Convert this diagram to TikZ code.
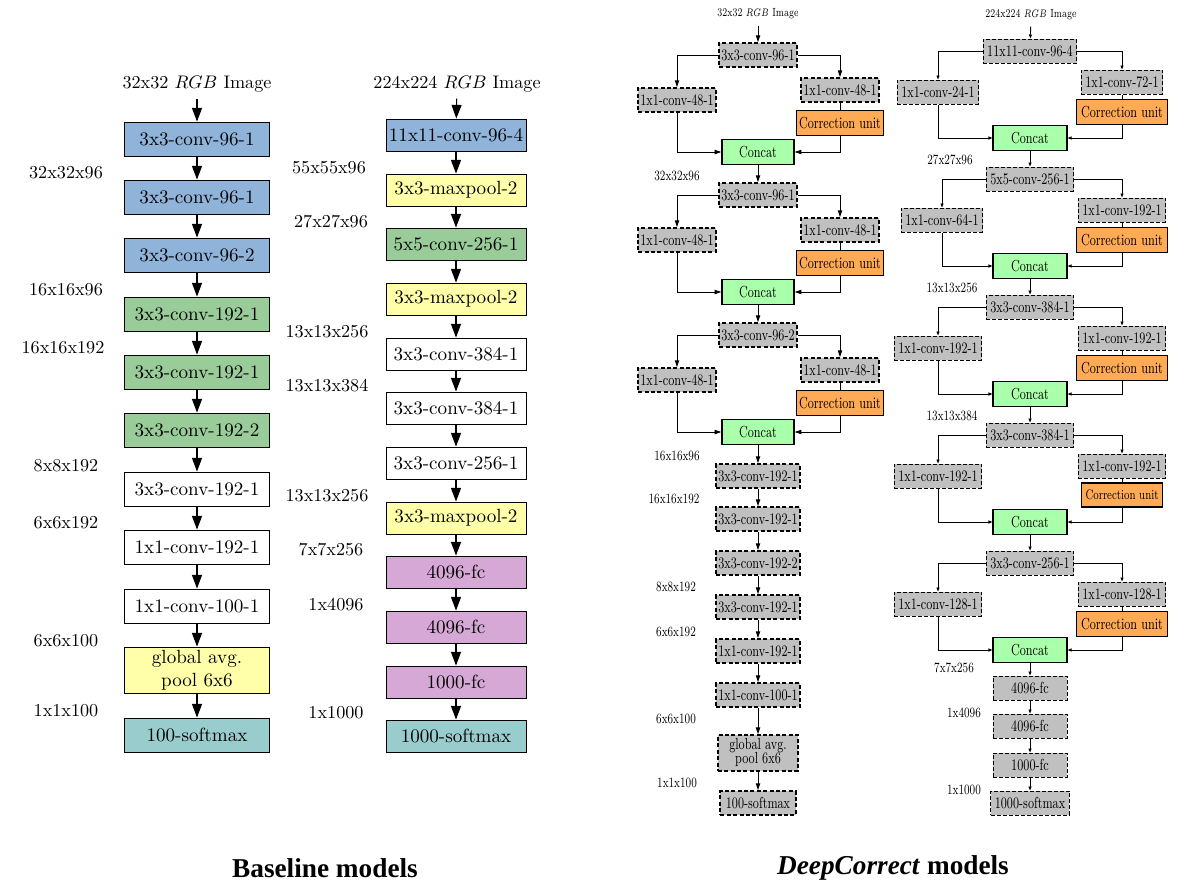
\documentclass[tikz,border=0pt]{standalone}
\usepackage{fontspec}
\usepackage{graphicx}
\usepackage{tikz}
\usetikzlibrary{arrows.meta}
\newfontfamily\capfont{Liberation Serif}

\definecolor{convblue}{RGB}{143,179,217}
\definecolor{convgreen}{RGB}{153,204,153}
\definecolor{poolyellow}{RGB}{255,255,170}
\definecolor{fcpurple}{RGB}{214,168,214}
\definecolor{softteal}{RGB}{153,204,204}
\definecolor{layergray}{RGB}{192,192,192}
\definecolor{concatgreen}{RGB}{170,255,170}
\definecolor{corrorange}{RGB}{255,170,85}
\newcommand{\sq}[1]{\scalebox{0.74}[1]{#1}}

\tikzset{
  blockL/.style={draw, line width=0.5pt, font=\fontsize{10.5}{12.5}\selectfont, minimum width=79.75pt, minimum height=18.7pt, inner sep=1pt},
  blockR/.style={blockL, minimum width=77pt, minimum height=17.6pt},
  dimtext/.style={font=\fontsize{10}{12}\selectfont},
  flow/.style={-{Triangle[length=7.5pt,width=5.5pt]}, line width=0.6pt},
  dclayer/.style={draw, fill=layergray, line width=1.1pt, dash pattern=on 2.2pt off 1.3pt, font=\fontsize{8.8}{10}\selectfont, minimum height=13pt, inner xsep=1.2pt, inner ysep=0pt},
  dclayerB/.style={draw, fill=layergray, line width=0.55pt, dash pattern=on 2.2pt off 1.1pt, font=\fontsize{8.8}{10}\selectfont, minimum height=13.2pt, inner xsep=2.2pt, inner ysep=0pt},
  corrunit/.style={draw, fill=corrorange, line width=0.6pt, font=\fontsize{8.8}{10}\selectfont, minimum height=14pt, inner xsep=1.4pt, inner ysep=0pt},
  concat/.style={draw, fill=concatgreen, line width=0.6pt, font=\fontsize{8.8}{10}\selectfont, minimum width=39.6pt, minimum height=13.75pt, inner sep=0pt},
  dcdim/.style={font=\fontsize{7.8}{9}\selectfont},
  dctitle/.style={font=\fontsize{6.5}{7.5}\selectfont},
  flowA/.style={-{Triangle[length=3.8pt,width=2.4pt]}, line width=0.55pt},
  flowB/.style={-{Triangle[length=2.2pt,width=1.7pt]}, line width=0.5pt},
}

\begin{document}
\begin{tikzpicture}[x=0.55pt, y=-0.55pt]
    \useasboundingbox (0,0) rectangle (1189,894);

    % baseline, 32x32 input
    \node[dimtext] at (197, 84) (t1) {32x32 $RGB$ Image};
    \node[blockL,fill=convblue] at (197,139) (b1) {3x3-conv-96-1};
    \node[blockL,fill=convblue] at (197,197) (b2) {3x3-conv-96-1};
    \node[blockL,fill=convblue] at (197,255) (b3) {3x3-conv-96-2};
    \node[blockL,fill=convgreen] at (197,314) (b4) {3x3-conv-192-1};
    \node[blockL,fill=convgreen] at (197,372) (b5) {3x3-conv-192-1};
    \node[blockL,fill=convgreen] at (197,430) (b6) {3x3-conv-192-2};
    \node[blockL,fill=white] at (197,489) (b7) {3x3-conv-192-1};
    \node[blockL,fill=white] at (197,547) (b8) {1x1-conv-192-1};
    \node[blockL,fill=white] at (197,606) (b9) {1x1-conv-100-1};
    \node[blockL,fill=poolyellow,align=center,minimum height=25.3pt] at (197,670) (b10) {global avg.\\pool 6x6};
    \node[blockL,fill=softteal] at (197,735) (b11) {100-softmax};

    \draw (t1) edge[flow] (b1);
    \draw (b1) edge[flow] (b2);
    \draw (b2) edge[flow] (b3);
    \draw (b3) edge[flow] (b4);
    \draw (b4) edge[flow] (b5);
    \draw (b5) edge[flow] (b6);
    \draw (b6) edge[flow] (b7);
    \draw (b7) edge[flow] (b8);
    \draw (b8) edge[flow] (b9);
    \draw (b9) edge[flow] (b10);
    \draw (b10) edge[flow] (b11);

    \node[dimtext] at (66,173) (sb1) {32x32x96};
    \node[dimtext] at (66,290) (sb2) {16x16x96};
    \node[dimtext] at (63,348) (sb3) {16x16x192};
    \node[dimtext] at (66,466) (sb4) {8x8x192};
    \node[dimtext] at (66,523) (sb5) {6x6x192};
    \node[dimtext] at (66,641) (sb6) {6x6x100};
    \node[dimtext] at (66,711) (sb7) {1x1x100};

    % baseline, 224x224 input
    \node[dimtext] at (457, 84) (t2) {224x224 $RGB$ Image};
    \node[blockR,fill=convblue] at (456,135) (a1) {11x11-conv-96-4};
    \node[blockR,fill=poolyellow] at (456,190) (a2) {3x3-maxpool-2};
    \node[blockR,fill=convgreen] at (456,244) (a3) {5x5-conv-256-1};
    \node[blockR,fill=poolyellow] at (456,299) (a4) {3x3-maxpool-2};
    \node[blockR,fill=white] at (456,354) (a5) {3x3-conv-384-1};
    \node[blockR,fill=white] at (456,408) (a6) {3x3-conv-384-1};
    \node[blockR,fill=white] at (456,463) (a7) {3x3-conv-256-1};
    \node[blockR,fill=poolyellow] at (456,518) (a8) {3x3-maxpool-2};
    \node[blockR,fill=fcpurple] at (456,572) (a9) {4096-fc};
    \node[blockR,fill=fcpurple] at (456,627) (a10) {4096-fc};
    \node[blockR,fill=fcpurple] at (456,682) (a11) {1000-fc};
    \node[blockR,fill=softteal] at (456,736) (a12) {1000-softmax};

    \draw (t2) edge[flow] (a1);
    \draw (a1) edge[flow] (a2);
    \draw (a2) edge[flow] (a3);
    \draw (a3) edge[flow] (a4);
    \draw (a4) edge[flow] (a5);
    \draw (a5) edge[flow] (a6);
    \draw (a6) edge[flow] (a7);
    \draw (a7) edge[flow] (a8);
    \draw (a8) edge[flow] (a9);
    \draw (a9) edge[flow] (a10);
    \draw (a10) edge[flow] (a11);
    \draw (a11) edge[flow] (a12);

    \node[dimtext] at (329,168) (sa1) {55x55x96};
    \node[dimtext] at (331,222) (sa2) {27x27x96};
    \node[dimtext] at (327,332) (sa3) {13x13x256};
    \node[dimtext] at (327,386) (sa4) {13x13x384};
    \node[dimtext] at (327,496) (sa5) {13x13x256};
    \node[dimtext] at (331,550) (sa6) {7x7x256};
    \node[dimtext] at (336,605) (sa7) {1x4096};
    \node[dimtext] at (336,713) (sa8) {1x1000};

    % DeepCorrect, 32x32 input
    \node[dctitle] at (758,14) (u0) {\sq{32x32 $RGB$ Image}};

    \node[dclayer] at (758,55) (c0) {\sq{3x3-conv-96-1}};
    \node[dclayer] at (677,100) (l0) {\sq{1x1-conv-48-1}};
    \node[dclayer] at (840,90) (r0) {\sq{1x1-conv-48-1}};
    \node[corrunit] at (840,123) (k0) {\sq{Correction unit}};
    \node[concat] at (758,152) (m0) {\sq{Concat}};

    \node[dclayer] at (758,195) (c1) {\sq{3x3-conv-96-1}};
    \node[dclayer] at (677,240) (l1) {\sq{1x1-conv-48-1}};
    \node[dclayer] at (840,230) (r1) {\sq{1x1-conv-48-1}};
    \node[corrunit] at (840,263) (k1) {\sq{Correction unit}};
    \node[concat] at (758,292) (m1) {\sq{Concat}};

    \node[dclayer] at (758,335) (c2) {\sq{3x3-conv-96-2}};
    \node[dclayer] at (677,380) (l2) {\sq{1x1-conv-48-1}};
    \node[dclayer] at (840,370) (r2) {\sq{1x1-conv-48-1}};
    \node[corrunit] at (840,403) (k2) {\sq{Correction unit}};
    \node[concat] at (758,432) (m2) {\sq{Concat}};

    \node[dclayer] at (758,476) (p1) {\sq{3x3-conv-192-1}};
    \node[dclayer] at (758,519) (p2) {\sq{3x3-conv-192-1}};
    \node[dclayer] at (758,563) (p3) {\sq{3x3-conv-192-2}};
    \node[dclayer] at (758,607) (p4) {\sq{3x3-conv-192-1}};
    \node[dclayer] at (758,651) (p5) {\sq{1x1-conv-192-1}};
    \node[dclayer] at (758,695) (p6) {\sq{1x1-conv-100-1}};
    \node[dclayer,minimum width=44pt,minimum height=19.5pt] at (758,753) (p7) {\sq{\begin{tabular}{@{}c@{}}global avg.\\[-2pt]pool 6x6\end{tabular}}};
    \node[dclayer,inner xsep=3pt] at (758,803) (p8) {\sq{100-softmax}};

    \draw (u0) edge[flowA] (c0);
    \draw[flowA] (c0.west) -| (l0.north);
    \draw[flowA] (c0.east) -| (r0.north);
    \draw[line width=0.55pt] (r0) -- (k0);
    \draw[flowA] (l0.south) |- (m0.west);
    \draw[flowA] (k0.south) |- (m0.east);
    \draw (m0) edge[flowA] (c1);
    \draw[flowA] (c1.west) -| (l1.north);
    \draw[flowA] (c1.east) -| (r1.north);
    \draw[line width=0.55pt] (r1) -- (k1);
    \draw[flowA] (l1.south) |- (m1.west);
    \draw[flowA] (k1.south) |- (m1.east);
    \draw (m1) edge[flowA] (c2);
    \draw[flowA] (c2.west) -| (l2.north);
    \draw[flowA] (c2.east) -| (r2.north);
    \draw[line width=0.55pt] (r2) -- (k2);
    \draw[flowA] (l2.south) |- (m2.west);
    \draw[flowA] (k2.south) |- (m2.east);
    \draw (m2) edge[flowA] (p1);
    \draw (p1) edge[flowA] (p2);
    \draw (p2) edge[flowA] (p3);
    \draw (p3) edge[flowA] (p4);
    \draw (p4) edge[flowA] (p5);
    \draw (p5) edge[flowA] (p6);
    \draw (p6) edge[flowA] (p7);
    \draw (p7) edge[flowA] (p8);

    \node[dcdim] at (677,176) (sc1) {\sq{32x32x96}};
    \node[dcdim] at (677,456) (sc2) {\sq{16x16x96}};
    \node[dcdim] at (674,499) (sc3) {\sq{16x16x192}};
    \node[dcdim] at (676,587) (sc4) {\sq{8x8x192}};
    \node[dcdim] at (676,632) (sc5) {\sq{6x6x192}};
    \node[dcdim] at (676,719) (sc6) {\sq{6x6x100}};
    \node[dcdim] at (677,783) (sc7) {\sq{1x1x100}};

    % DeepCorrect, 224x224 input
    \node[dctitle] at (1031,15) (v0) {\sq{224x224 $RGB$ Image}};

    \node[dclayerB] at (1030,51) (e0) {\sq{11x11-conv-96-4}};
    \node[dclayerB] at (938,92) (f0) {\sq{1x1-conv-24-1}};
    \node[dclayerB] at (1122,82) (g0) {\sq{1x1-conv-72-1}};
    \node[corrunit,inner xsep=2.4pt] at (1122,112) (h0) {\sq{Correction unit}};
    \node[concat,minimum width=40.7pt] at (1030,138) (n0) {\sq{Concat}};

    \node[dclayerB] at (1030,179) (e1) {\sq{5x5-conv-256-1}};
    \node[dclayerB] at (942,220) (f1) {\sq{1x1-conv-64-1}};
    \node[dclayerB] at (1122,210) (g1) {\sq{1x1-conv-192-1}};
    \node[corrunit,inner xsep=2.4pt] at (1122,240) (h1) {\sq{Correction unit}};
    \node[concat,minimum width=40.7pt] at (1030,266) (n1) {\sq{Concat}};

    \node[dclayerB] at (1030,307) (e2) {\sq{3x3-conv-384-1}};
    \node[dclayerB] at (938,348) (f2) {\sq{1x1-conv-192-1}};
    \node[dclayerB] at (1122,338) (g2) {\sq{1x1-conv-192-1}};
    \node[corrunit,inner xsep=2.4pt] at (1122,368) (h2) {\sq{Correction unit}};
    \node[concat,minimum width=40.7pt] at (1030,394) (n2) {\sq{Concat}};

    \node[dclayerB] at (1030,435) (e3) {\sq{3x3-conv-384-1}};
    \node[dclayerB] at (938,476) (f3) {\sq{1x1-conv-192-1}};
    \node[dclayerB] at (1122,466) (g3) {\sq{1x1-conv-192-1}};
    \node[corrunit,font=\fontsize{7.6}{8.5}\selectfont,minimum height=13.2pt,inner xsep=2.4pt] at (1122,495) (h3) {\sq{Correction unit}};
    \node[concat,minimum width=40.7pt] at (1030,522) (n3) {\sq{Concat}};

    \node[dclayerB] at (1030,563) (e4) {\sq{3x3-conv-256-1}};
    \node[dclayerB] at (938,604) (f4) {\sq{1x1-conv-128-1}};
    \node[dclayerB] at (1122,594) (g4) {\sq{1x1-conv-128-1}};
    \node[corrunit,inner xsep=2.4pt] at (1122,624) (h4) {\sq{Correction unit}};
    \node[concat,minimum width=40.7pt] at (1030,650) (n4) {\sq{Concat}};

    \node[dclayerB,minimum width=40.7pt] at (1030,688) (q1) {\sq{4096-fc}};
    \node[dclayerB,minimum width=40.7pt] at (1030,726) (q2) {\sq{4096-fc}};
    \node[dclayerB,minimum width=40.7pt] at (1030,765) (q3) {\sq{1000-fc}};
    \node[dclayerB] at (1030,803) (q4) {\sq{1000-softmax}};

    \draw (v0) edge[flowB] (e0);
    \draw[flowB] (e0.west) -| (f0.north);
    \draw[flowB] (e0.east) -| (g0.north);
    \draw[line width=0.5pt] (g0) -- (h0);
    \draw[flowB] (f0.south) |- (n0.west);
    \draw[flowB] (h0.south) |- (n0.east);
    \draw (n0) edge[flowB] (e1);
    \draw[flowB] (e1.west) -| (f1.north);
    \draw[flowB] (e1.east) -| (g1.north);
    \draw[line width=0.5pt] (g1) -- (h1);
    \draw[flowB] (f1.south) |- (n1.west);
    \draw[flowB] (h1.south) |- (n1.east);
    \draw (n1) edge[flowB] (e2);
    \draw[flowB] (e2.west) -| (f2.north);
    \draw[flowB] (e2.east) -| (g2.north);
    \draw[line width=0.5pt] (g2) -- (h2);
    \draw[flowB] (f2.south) |- (n2.west);
    \draw[flowB] (h2.south) |- (n2.east);
    \draw (n2) edge[flowB] (e3);
    \draw[flowB] (e3.west) -| (f3.north);
    \draw[flowB] (e3.east) -| (g3.north);
    \draw[line width=0.5pt] (g3) -- (h3);
    \draw[flowB] (f3.south) |- (n3.west);
    \draw[flowB] (h3.south) |- (n3.east);
    \draw (n3) edge[flowB] (e4);
    \draw[flowB] (e4.west) -| (f4.north);
    \draw[flowB] (e4.east) -| (g4.north);
    \draw[line width=0.5pt] (g4) -- (h4);
    \draw[flowB] (f4.south) |- (n4.west);
    \draw[flowB] (h4.south) |- (n4.east);
    \draw (n4) edge[flowB] (q1);
    \draw (q1) edge[flowB] (q2);
    \draw (q2) edge[flowB] (q3);
    \draw (q3) edge[flowB] (q4);

    \node[dcdim] at (950,160) (sd1) {\sq{27x27x96}};
    \node[dcdim] at (952,288) (sd2) {\sq{13x13x256}};
    \node[dcdim] at (952,416) (sd3) {\sq{13x13x384}};
    \node[dcdim] at (954,668) (sd4) {\sq{7x7x256}};
    \node[dcdim] at (964,713) (sd5) {\sq{1x4096}};
    \node[dcdim] at (964,790) (sd6) {\sq{1x1000}};

    % captions
    \node[font=\capfont\bfseries\fontsize{15}{18}\selectfont] at (325,868) (cap1) {Baseline models};
    \node[font=\capfont\bfseries\fontsize{15}{18}\selectfont] at (893,868) (cap2) {\textit{DeepCorrect} models};
\end{tikzpicture}
\end{document}
